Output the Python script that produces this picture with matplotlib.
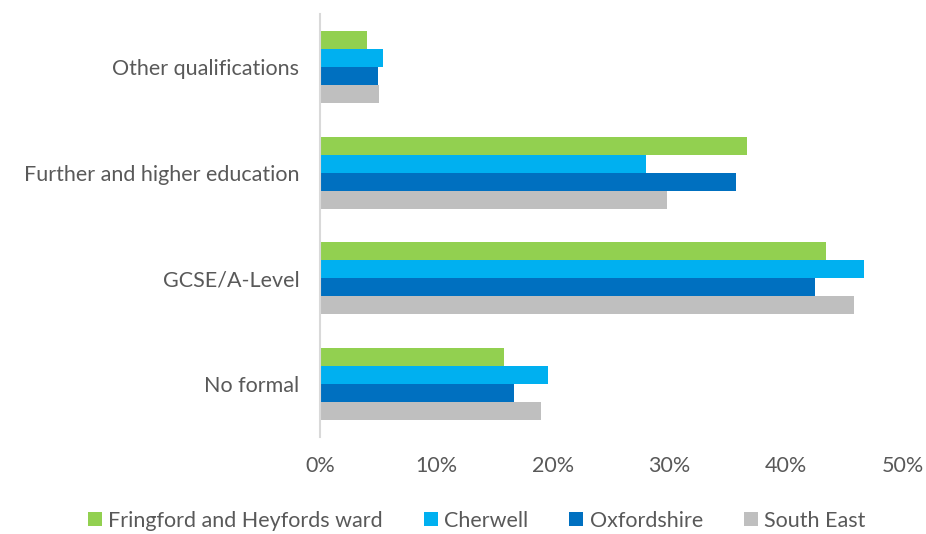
import matplotlib
matplotlib.use("Agg")
import matplotlib.pyplot as plt
import numpy as np

categories = ["No formal", "GCSE/A-Level", "Further and higher education", "Other qualifications"]
series_names = ["Fringford and Heyfords ward", "Cherwell", "Oxfordshire", "South East"]
fringford = [15.8, 43.4, 36.6, 4.0]
cherwell = [19.6, 46.7, 28.0, 5.4]
oxfordshire = [16.6, 42.5, 35.7, 5.0]
south_east = [19.0, 45.8, 29.8, 5.1]
colors = ["#92D050", "#00B0F0", "#0070C0", "#BFBFBF"]
xticks = [0, 10, 20, 30, 40, 50]

plt.rcParams['font.family'] = ['Lato', 'DejaVu Sans']
fig = plt.figure(figsize=(9.26, 5.34), dpi=100)
ax = fig.add_axes([0.3456, 0.1816, 0.6294, 0.7922])

y = np.arange(len(categories))
h = 0.17
data = [fringford, cherwell, oxfordshire, south_east]
offsets = [1.5, 0.5, -0.5, -1.5]
for vals, c, off, name in zip(data, colors, offsets, series_names):
    ax.barh(y + off * h, vals, height=h, color=c, label=name)

ax.set_xlim(0, 50)
ax.set_ylim(-0.5, 3.5)
ax.set_yticks(y)
ax.set_yticklabels(categories)
ax.set_xticks(xticks)
ax.set_xticklabels([f"{t}%" for t in xticks])
for s in ["top", "right", "bottom"]:
    ax.spines[s].set_visible(False)
ax.spines["left"].set_color("#D9D9D9")
ax.spines["left"].set_linewidth(1.5)
ax.tick_params(axis="both", length=0, labelsize=15.5, colors="#595959")
ax.tick_params(axis="y", pad=15)
ax.tick_params(axis="x", pad=14)

handles, labels = ax.get_legend_handles_labels()
leg = fig.legend(handles, labels, loc="center", bbox_to_anchor=(0.515, 0.025), ncol=4,
                 frameon=False, fontsize=15.5, handlelength=0.65, handleheight=0.65,
                 handletextpad=0.3, columnspacing=1.9, labelcolor="#595959")
fig.savefig("out.png", dpi=100)
